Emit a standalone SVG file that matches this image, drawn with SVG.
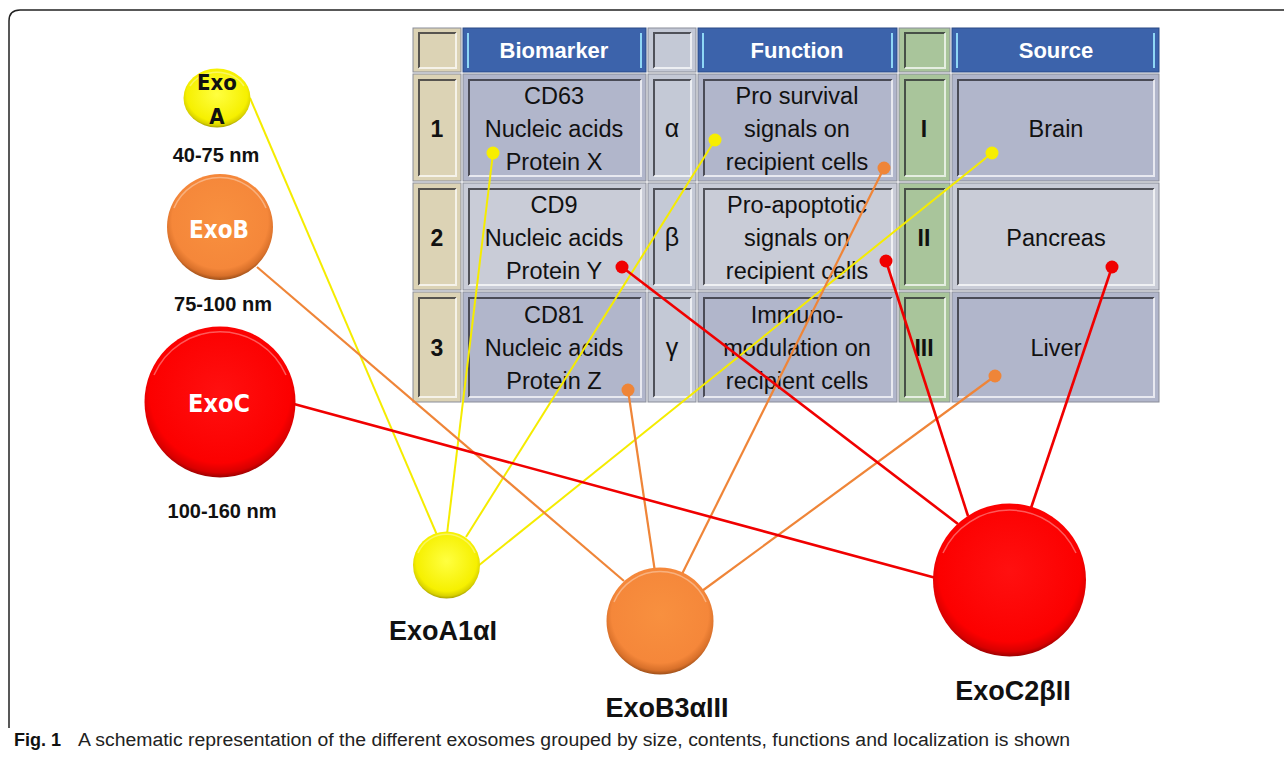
<svg xmlns="http://www.w3.org/2000/svg" width="1284" height="759" viewBox="0 0 1284 759">
<defs>
<style>
.cell{stroke:#8a8d99;stroke-width:1}
.bd{fill:none;stroke:#1e1e24;stroke-width:2;opacity:.7}
.bl{fill:none;stroke:#ffffff;stroke-width:2;opacity:.7}
.hd{fill:#3c63ab;stroke:#2b4a86;stroke-width:1}
.hl{fill:none;stroke:#8fd7f5;stroke-width:2}
.ct{font-family:"Liberation Sans",Arial,sans-serif;font-size:23.5px;fill:#111;text-anchor:middle}
.cg{font-family:"Liberation Sans",Arial,sans-serif;font-size:25px;fill:#111;text-anchor:middle}
.cb{font-family:"Liberation Sans",Arial,sans-serif;font-size:23px;font-weight:bold;fill:#111;text-anchor:middle}
.ht{font-family:"Liberation Sans",Arial,sans-serif;font-size:22px;font-weight:bold;fill:#fff;text-anchor:middle}
.sz{font-family:"Liberation Sans",Arial,sans-serif;font-size:20px;font-weight:bold;fill:#111;text-anchor:middle}
.nl{font-family:"Liberation Sans",Arial,sans-serif;font-size:27px;font-weight:bold;fill:#111;text-anchor:middle}
.ex{font-family:"DejaVu Sans Condensed","DejaVu Sans",sans-serif;font-stretch:condensed;font-weight:bold;text-anchor:middle}
.ly{stroke:#f5ec00;stroke-width:2;fill:none}
.lo{stroke:#ef8538;stroke-width:2.2;fill:none}
.lr{stroke:#f00000;stroke-width:2.6;fill:none}
.dy{fill:#f7ee00}
.do{fill:#ef8538}
.dr{fill:#f00000}
.hi{fill:none;stroke:#ffffff;stroke-width:1.5;opacity:.35}
.cap{font-family:"Liberation Sans",Arial,sans-serif;font-size:18px;fill:#222}
</style>
<radialGradient id="gY" cx="50%" cy="44%" r="58%">
<stop offset="0" stop-color="#ffff40"/><stop offset="0.78" stop-color="#f6f000"/><stop offset="0.9" stop-color="#d9d200"/><stop offset="1" stop-color="#8d8700"/>
</radialGradient>
<radialGradient id="gO" cx="50%" cy="44%" r="58%">
<stop offset="0" stop-color="#f8903f"/><stop offset="0.78" stop-color="#f5873a"/><stop offset="0.9" stop-color="#d8702a"/><stop offset="1" stop-color="#7f3e10"/>
</radialGradient>
<radialGradient id="gR" cx="50%" cy="44%" r="58%">
<stop offset="0" stop-color="#ff1010"/><stop offset="0.8" stop-color="#fc0000"/><stop offset="0.91" stop-color="#d80000"/><stop offset="1" stop-color="#760000"/>
</radialGradient>
</defs>
<rect width="1284" height="759" fill="#fff"/>
<path d="M9 728 V21 Q9 10 20 10 H1284" fill="none" stroke="#222" stroke-width="1.5"/>

<g id="table">
<rect class="cell" x="413" y="28" width="48" height="44" fill="#dcd3b5"/>
<path class="bd" d="M419 68 V33 H456"/><path class="bl" d="M456 33 V68 H419"/>
<rect class="hd" x="463" y="28" width="183" height="44"/>
<path class="hl" d="M468 68 V33"/><path class="hl" d="M641 68 V33"/>
<rect class="cell" x="648" y="28" width="48" height="44" fill="#c4c9d6"/>
<path class="bd" d="M654 68 V33 H691"/><path class="bl" d="M691 33 V68 H654"/>
<rect class="hd" x="698" y="28" width="199" height="44"/>
<path class="hl" d="M703 68 V33"/><path class="hl" d="M892 68 V33"/>
<rect class="cell" x="899" y="28" width="51" height="44" fill="#a9c59b"/>
<path class="bd" d="M905 68 V33 H945"/><path class="bl" d="M945 33 V68 H905"/>
<rect class="hd" x="952" y="28" width="207" height="44"/>
<path class="hl" d="M957 68 V33"/><path class="hl" d="M1154 68 V33"/>
<text class="ht" x="554" y="58">Biomarker</text>
<text class="ht" x="797" y="58">Function</text>
<text class="ht" x="1056" y="58">Source</text>

<rect class="cell" x="413" y="74" width="48" height="107" fill="#dcd3b5"/>
<path class="bd" d="M419 176 V80 H456"/><path class="bl" d="M456 80 V176 H419"/>
<rect class="cell" x="463" y="74" width="183" height="107" fill="#b1b6cb"/>
<path class="bd" d="M469 176 V80 H641"/><path class="bl" d="M641 80 V176 H469"/>
<rect class="cell" x="648" y="74" width="48" height="107" fill="#c4c9d6"/>
<path class="bd" d="M654 176 V80 H691"/><path class="bl" d="M691 80 V176 H654"/>
<rect class="cell" x="698" y="74" width="199" height="107" fill="#b1b6cb"/>
<path class="bd" d="M704 176 V80 H892"/><path class="bl" d="M892 80 V176 H704"/>
<rect class="cell" x="899" y="74" width="51" height="107" fill="#a9c59b"/>
<path class="bd" d="M905 176 V80 H945"/><path class="bl" d="M945 80 V176 H905"/>
<rect class="cell" x="952" y="74" width="207" height="107" fill="#b1b6cb"/>
<path class="bd" d="M958 176 V80 H1154"/><path class="bl" d="M1154 80 V176 H958"/>

<rect class="cell" x="413" y="183" width="48" height="107" fill="#dcd3b5"/>
<path class="bd" d="M419 285 V189 H456"/><path class="bl" d="M456 189 V285 H419"/>
<rect class="cell" x="463" y="183" width="183" height="107" fill="#c9ccd7"/>
<path class="bd" d="M469 285 V189 H641"/><path class="bl" d="M641 189 V285 H469"/>
<rect class="cell" x="648" y="183" width="48" height="107" fill="#c4c9d6"/>
<path class="bd" d="M654 285 V189 H691"/><path class="bl" d="M691 189 V285 H654"/>
<rect class="cell" x="698" y="183" width="199" height="107" fill="#c9ccd7"/>
<path class="bd" d="M704 285 V189 H892"/><path class="bl" d="M892 189 V285 H704"/>
<rect class="cell" x="899" y="183" width="51" height="107" fill="#a9c59b"/>
<path class="bd" d="M905 285 V189 H945"/><path class="bl" d="M945 189 V285 H905"/>
<rect class="cell" x="952" y="183" width="207" height="107" fill="#c9ccd7"/>
<path class="bd" d="M958 285 V189 H1154"/><path class="bl" d="M1154 189 V285 H958"/>

<rect class="cell" x="413" y="292" width="48" height="110" fill="#dcd3b5"/>
<path class="bd" d="M419 397 V298 H456"/><path class="bl" d="M456 298 V397 H419"/>
<rect class="cell" x="463" y="292" width="183" height="110" fill="#b1b6cb"/>
<path class="bd" d="M469 397 V298 H641"/><path class="bl" d="M641 298 V397 H469"/>
<rect class="cell" x="648" y="292" width="48" height="110" fill="#c4c9d6"/>
<path class="bd" d="M654 397 V298 H691"/><path class="bl" d="M691 298 V397 H654"/>
<rect class="cell" x="698" y="292" width="199" height="110" fill="#b1b6cb"/>
<path class="bd" d="M704 397 V298 H892"/><path class="bl" d="M892 298 V397 H704"/>
<rect class="cell" x="899" y="292" width="51" height="110" fill="#a9c59b"/>
<path class="bd" d="M905 397 V298 H945"/><path class="bl" d="M945 298 V397 H905"/>
<rect class="cell" x="952" y="292" width="207" height="110" fill="#b1b6cb"/>
<path class="bd" d="M958 397 V298 H1154"/><path class="bl" d="M1154 298 V397 H958"/>

<text class="cb" x="437" y="137">1</text>
<text class="cb" x="437" y="246">2</text>
<text class="cb" x="437" y="356">3</text>
<text class="ct" x="554" y="104">CD63</text>
<text class="ct" x="554" y="137">Nucleic acids</text>
<text class="ct" x="554" y="170">Protein X</text>
<text class="ct" x="554" y="213">CD9</text>
<text class="ct" x="554" y="246">Nucleic acids</text>
<text class="ct" x="554" y="279">Protein Y</text>
<text class="ct" x="554" y="323">CD81</text>
<text class="ct" x="554" y="356">Nucleic acids</text>
<text class="ct" x="554" y="389">Protein Z</text>
<text class="cg" x="672" y="137">α</text>
<text class="cg" x="672" y="246">β</text>
<text class="cg" x="672" y="356">γ</text>
<text class="ct" x="797" y="104">Pro survival</text>
<text class="ct" x="797" y="137">signals on</text>
<text class="ct" x="797" y="170">recipient cells</text>
<text class="ct" x="797" y="213">Pro-apoptotic</text>
<text class="ct" x="797" y="246">signals on</text>
<text class="ct" x="797" y="279">recipient cells</text>
<text class="ct" x="797" y="323">Immuno-</text>
<text class="ct" x="797" y="356">modulation on</text>
<text class="ct" x="797" y="389">recipient cells</text>
<text class="cb" x="924" y="137">I</text>
<text class="cb" x="924" y="246">II</text>
<text class="cb" x="924" y="356">III</text>
<text class="ct" x="1056" y="137">Brain</text>
<text class="ct" x="1056" y="246">Pancreas</text>
<text class="ct" x="1056" y="356">Liver</text>
</g>

<g id="connectors">
<line class="ly" x1="250" y1="98" x2="437" y2="535"/>
<line class="ly" x1="493" y1="153" x2="447" y2="534"/>
<line class="ly" x1="715" y1="140" x2="466" y2="537"/>
<line class="ly" x1="992" y1="153" x2="478" y2="566"/>
<line class="lo" x1="257" y1="267" x2="624" y2="581"/>
<line class="lo" x1="628" y1="390" x2="655" y2="572"/>
<line class="lo" x1="884" y1="168" x2="682" y2="574"/>
<line class="lo" x1="995" y1="376" x2="702" y2="591"/>
<line class="lr" x1="294" y1="404" x2="936" y2="578"/>
<line class="lr" x1="622" y1="267" x2="958" y2="524"/>
<line class="lr" x1="886" y1="261" x2="968" y2="516"/>
<line class="lr" x1="1112" y1="267" x2="1031" y2="508"/>
<circle class="dy" cx="493" cy="153" r="6.5"/>
<circle class="dy" cx="715" cy="140" r="6.5"/>
<circle class="dy" cx="992" cy="153" r="6.5"/>
<circle class="do" cx="884" cy="168" r="6.5"/>
<circle class="do" cx="628" cy="390" r="6.5"/>
<circle class="do" cx="995" cy="376" r="6.5"/>
<circle class="dr" cx="622" cy="267" r="6.5"/>
<circle class="dr" cx="886" cy="261" r="6.5"/>
<circle class="dr" cx="1112" cy="267" r="6.5"/>
</g>

<g id="exoA">
<ellipse cx="217" cy="98" rx="33.5" ry="29.5" fill="url(#gY)"/>
<path class="hi" d="M190 86 A31 27 0 0 1 244 86"/>
<text class="ex" x="217" y="90" font-size="22" fill="#111">Exo</text>
<text class="ex" x="217" y="124" font-size="22" fill="#111">A</text>
<text class="sz" x="216" y="162">40-75 nm</text>
</g>
<g id="exoB">
<circle cx="220" cy="227" r="53" fill="url(#gO)"/>
<path class="hi" d="M174 208 A50 50 0 0 1 266 208"/>
<text class="ex" x="219" y="238" font-size="24" fill="#fff">ExoB</text>
<text class="sz" x="223" y="311">75-100 nm</text>
</g>
<g id="exoC">
<circle cx="220" cy="402" r="75.5" fill="url(#gR)"/>
<path class="hi" d="M154 375 A72 72 0 0 1 286 375"/>
<text class="ex" x="219" y="412" font-size="25" fill="#fff">ExoC</text>
<text class="sz" x="222" y="518">100-160 nm</text>
</g>
<g id="exoA1aI">
<circle cx="446.5" cy="565" r="33.5" fill="url(#gY)"/>
<path class="hi" d="M418 553 A31 31 0 0 1 475 553"/>
<text class="nl" x="443" y="640">ExoA1αI</text>
</g>
<g id="exoB3aIII">
<circle cx="660" cy="621" r="53.5" fill="url(#gO)"/>
<path class="hi" d="M614 602 A50 50 0 0 1 706 602"/>
<text class="nl" x="667" y="717">ExoB3αIII</text>
</g>
<g id="exoC2bII">
<circle cx="1009.5" cy="580" r="76.5" fill="url(#gR)"/>
<path class="hi" d="M943 553 A73 73 0 0 1 1076 553"/>
<text class="nl" x="1013" y="700">ExoC2βII</text>
</g>

<g id="caption">
<text class="cap" x="14" y="746" font-size="19"><tspan font-weight="bold" fill="#111">Fig. 1</tspan></text>
<text class="cap" x="78" y="746" textLength="992" lengthAdjust="spacingAndGlyphs">A schematic representation of the different exosomes grouped by size, contents, functions and localization is shown</text>
</g>
</svg>
